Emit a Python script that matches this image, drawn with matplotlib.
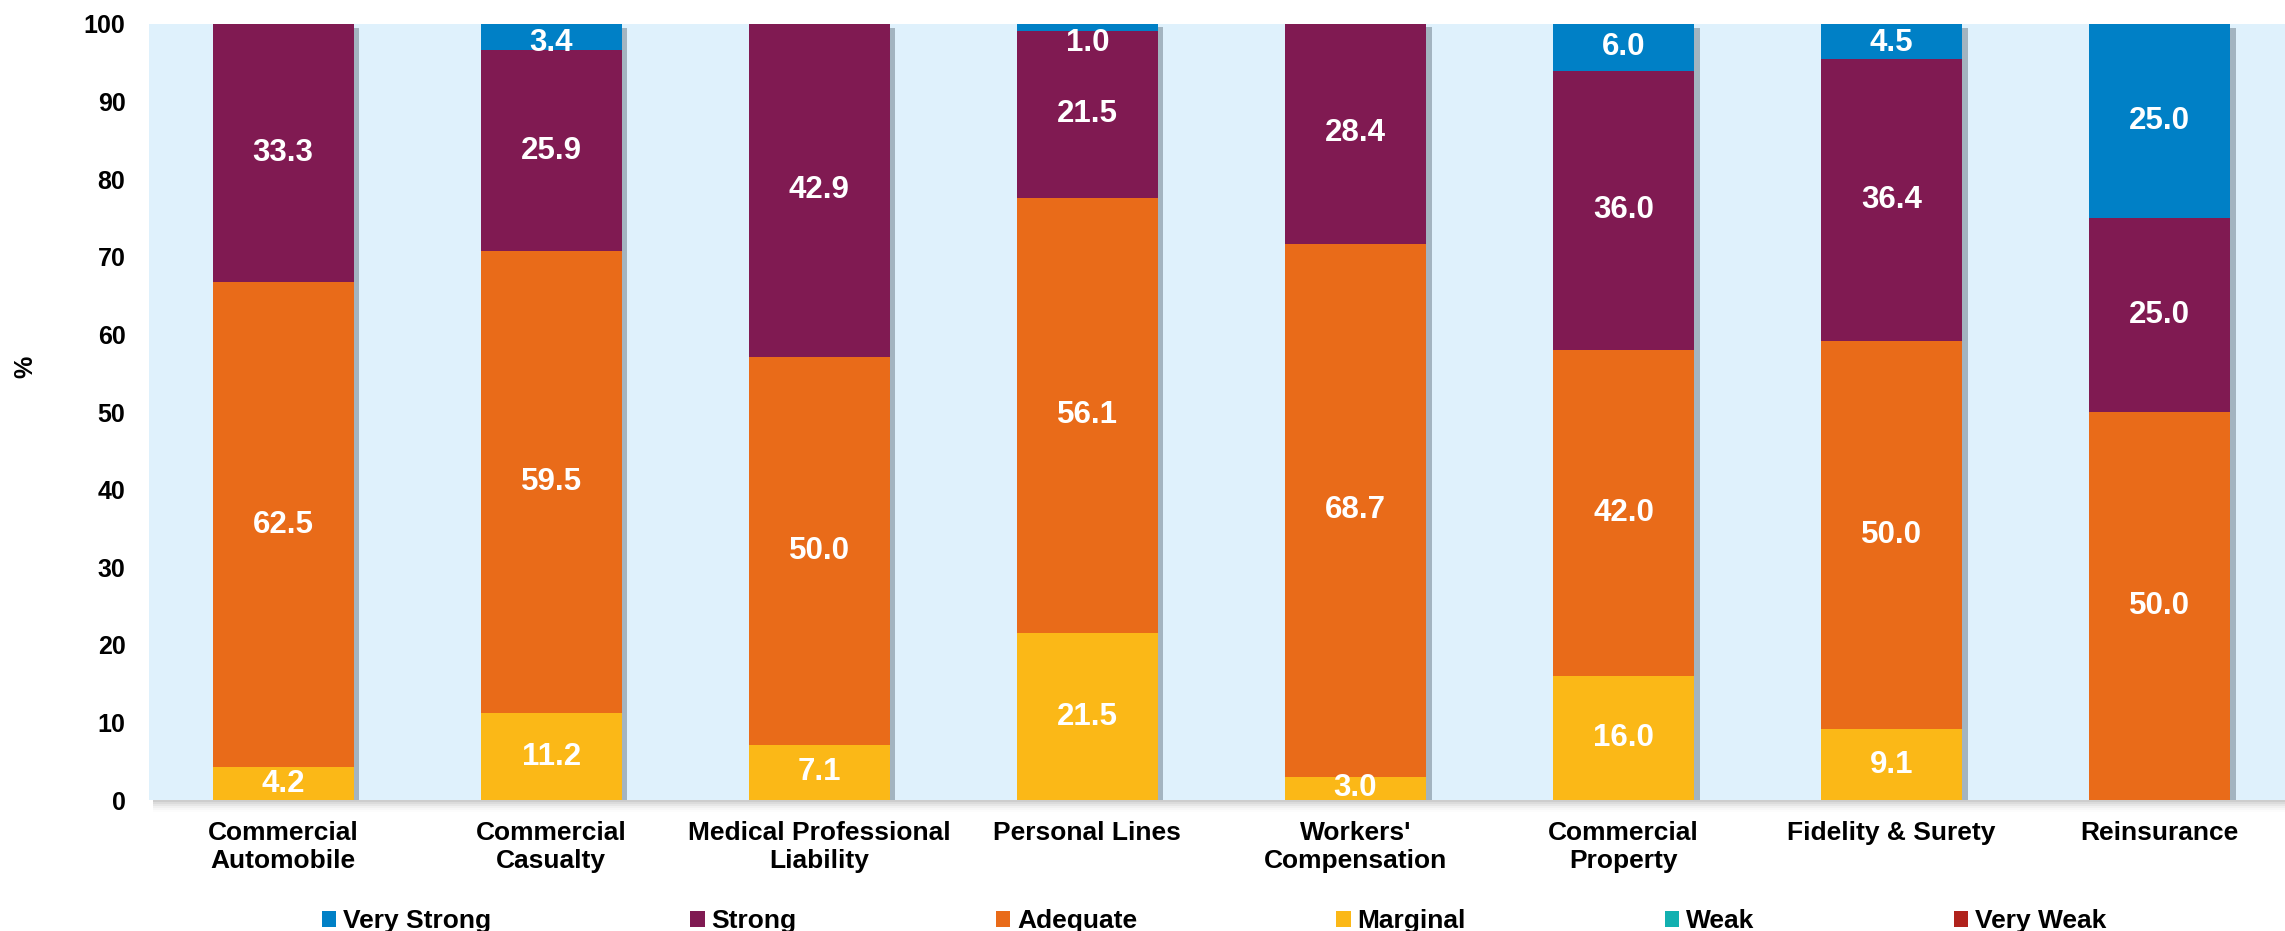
import matplotlib
matplotlib.use("Agg")
import matplotlib.pyplot as plt
import matplotlib.patheffects as pe
from matplotlib.patches import Rectangle
import numpy as np

plt.rcParams['font.family'] = ['Liberation Sans', 'DejaVu Sans']
plt.rcParams['font.weight'] = 'bold'

categories = ["Commercial\nAutomobile", "Commercial\nCasualty", "Medical Professional\nLiability",
              "Personal Lines", "Workers'\nCompensation", "Commercial\nProperty",
              "Fidelity & Surety", "Reinsurance"]

very_weak = [0, 0, 0, 0, 0, 0, 0, 0]
weak = [0, 0, 0, 0, 0, 0, 0, 0]
marginal = [4.2, 11.2, 7.1, 21.5, 3.0, 16.0, 9.1, 0]
adequate = [62.5, 59.5, 50.0, 56.1, 68.7, 42.0, 50.0, 50.0]
strong = [33.3, 25.9, 42.9, 21.5, 28.4, 36.0, 36.4, 25.0]
very_strong = [0, 3.4, 0, 1.0, 0, 6.0, 4.5, 25.0]

series_names = ["Very Strong", "Strong", "Adequate", "Marginal", "Weak", "Very Weak"]
series_colors = ["#0080C6", "#801A52", "#E96B19", "#FBB817", "#12B0B0", "#B0221C"]

# stacking order from the bottom up
stack = [("Very Weak", very_weak), ("Weak", weak), ("Marginal", marginal),
         ("Adequate", adequate), ("Strong", strong), ("Very Strong", very_strong)]
color_of = dict(zip(series_names, series_colors))

W, H = 2285, 931
fig = plt.figure(figsize=(W / 100, H / 100), dpi=100)
ax = fig.add_axes([149 / W, (H - 800) / H, (W - 149) / W, (800 - 24) / H])
ax.set_facecolor("#DFF1FC")

# soft shadow beneath the plot area
for i, a in enumerate([0.35, 0.25, 0.17, 0.1, 0.05, 0.02]):
    fig.patches.append(Rectangle(((149 + 4) / W, (H - 800 - 2 * (i + 1)) / H), (W - 149) / W, 2 / H,
                                 transform=fig.transFigure, facecolor="#707070", alpha=a,
                                 edgecolor="none", zorder=0))

x = np.arange(len(categories))
width = 0.526
totals = np.sum([np.array(v) for _, v in stack], axis=0)

# bar drop shadows
ax.bar(x, totals, width, color="none", edgecolor="none", zorder=1,
       path_effects=[pe.SimplePatchShadow(offset=(4, -3), shadow_rgbFace="#5a6a78", alpha=0.45)])

bottom = np.zeros(len(categories))
for name, vals in stack:
    vals = np.array(vals, dtype=float)
    ax.bar(x, vals, width, bottom=bottom, color=color_of[name], edgecolor="none", zorder=2)
    for xi, v, b in zip(x, vals, bottom):
        if v > 0:
            yc = min(b + v / 2, 97.6)
            ax.text(xi, yc, f"{v:.1f}", ha="center", va="center", color="white",
                    fontsize=22.5, fontweight="bold", zorder=3)
    bottom += vals

ax.set_xlim(-0.5, (W - 149) / 268.1 - 0.5)
ax.set_ylim(0, 100)
ax.set_yticks(np.arange(0, 101, 10))
ax.set_xticks(x)
ax.set_xticklabels(categories, fontsize=19, fontweight="bold", linespacing=1.22)
ax.tick_params(axis="y", length=0, pad=17, labelsize=18)
ax.tick_params(axis="x", length=0, pad=15)
for lab in ax.get_yticklabels():
    lab.set_fontweight("bold")
for s in ax.spines.values():
    s.set_visible(False)

fig.text(25 / W, 1 - 367 / H, "%", rotation=90, ha="center", va="center",
         fontsize=18, fontweight="bold")

handles = [Rectangle((0, 0), 1, 1, facecolor=c, edgecolor="none") for c in series_colors]
fig.legend(handles, series_names, loc="center", bbox_to_anchor=(1214 / W, 10 / H), ncol=6,
           frameon=False, fontsize=19, handlelength=0.55, handleheight=0.55,
           handletextpad=0.25, columnspacing=7.55, borderpad=0, borderaxespad=0)

fig.savefig("out.png", dpi=100)
